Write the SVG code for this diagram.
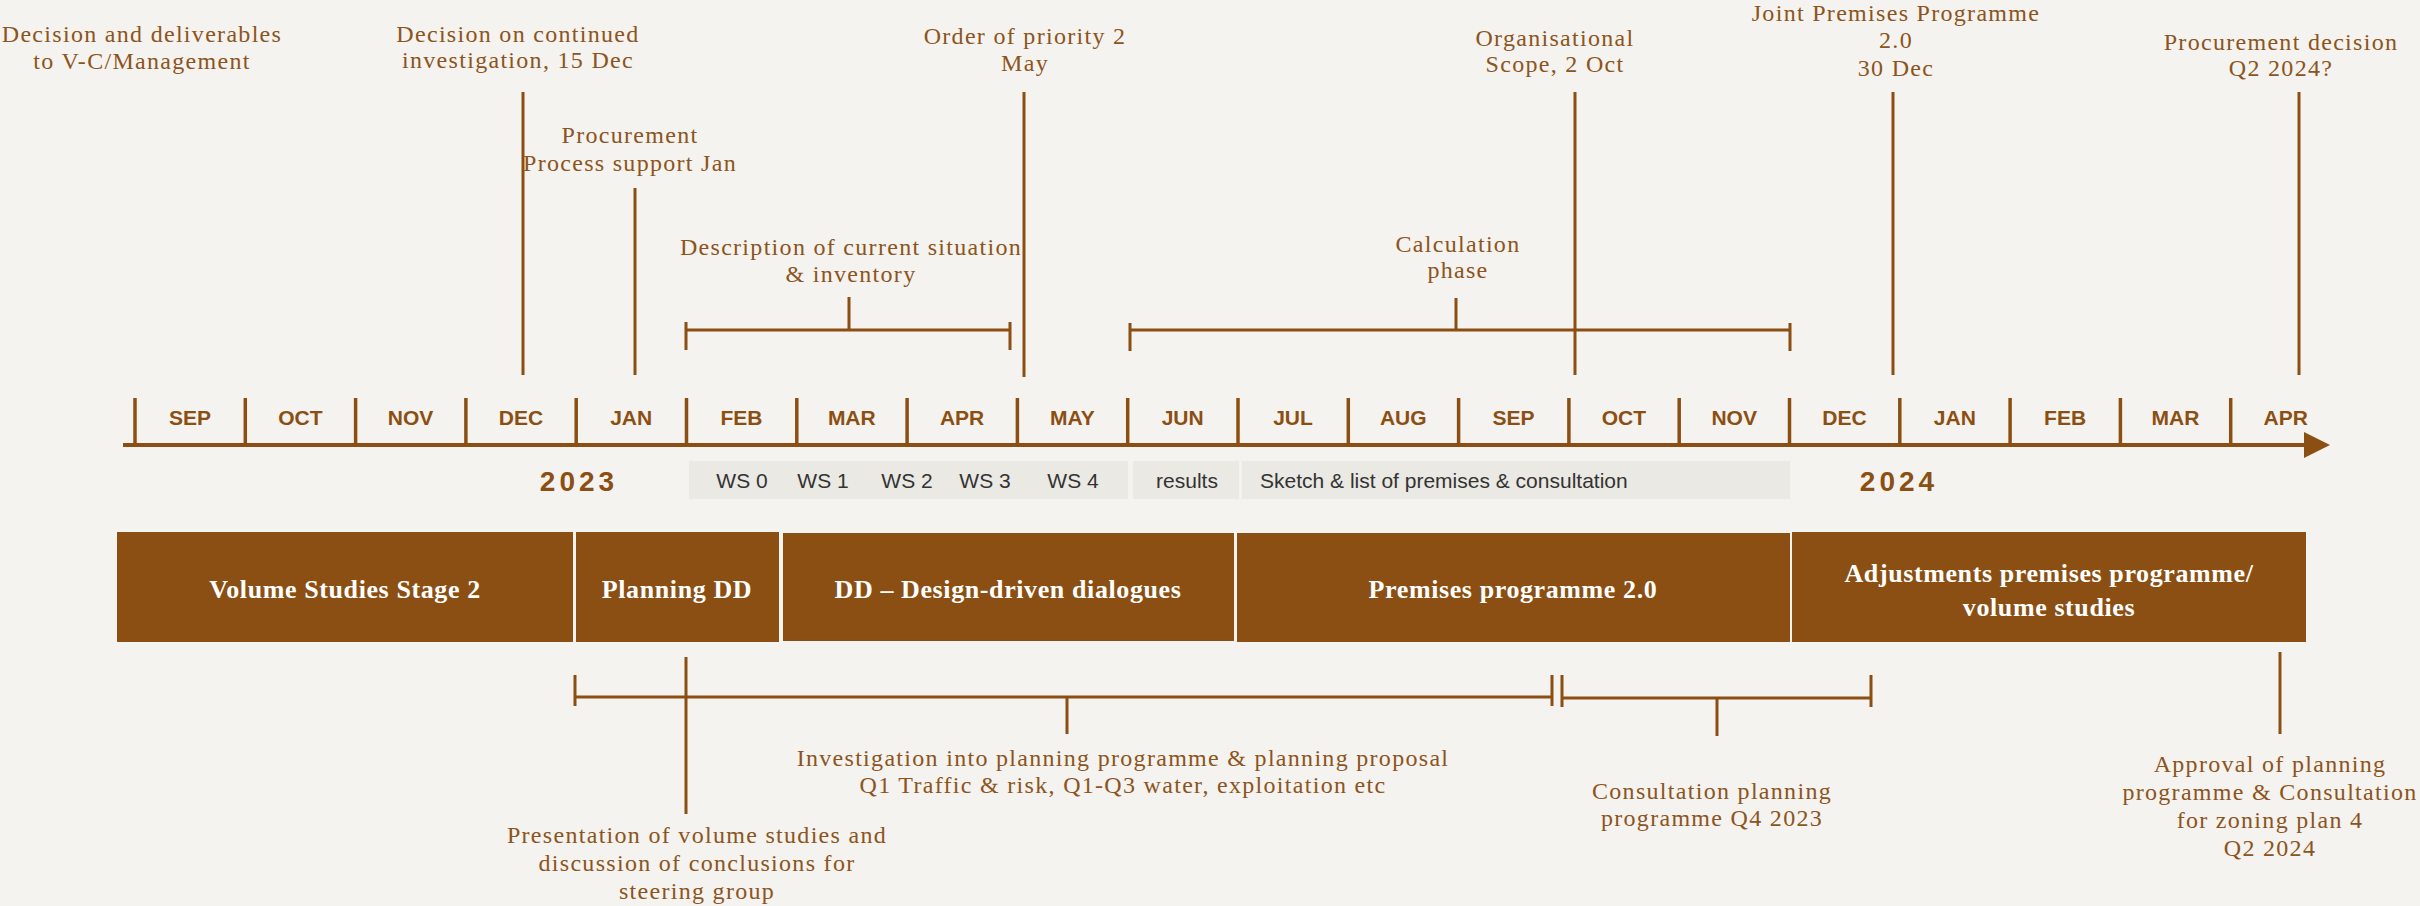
<svg xmlns="http://www.w3.org/2000/svg" width="2420" height="906" viewBox="0 0 2420 906">
<style>
.bg{fill:#F5F3EF}
.lbl{font-family:"Liberation Serif","Times New Roman",serif;font-size:24px;letter-spacing:1.3px;fill:#8C5420;text-anchor:middle}
.ln{stroke:#8B4F13;stroke-width:3;fill:none}
.tick{stroke:#8B4F13;stroke-width:3.5}
.mon{font-family:"Liberation Sans",Arial,sans-serif;font-weight:bold;font-size:21px;fill:#8B4F13;text-anchor:middle}
.yr{font-family:"Liberation Sans",Arial,sans-serif;font-weight:bold;font-size:28px;letter-spacing:4px;fill:#8B4F13;text-anchor:middle}
.ws{font-family:"Liberation Sans",Arial,sans-serif;font-size:21px;fill:#333333}
.gbox{fill:#EAE9E3}
.phase{fill:#8B4F13}
.ptxt{font-family:"Liberation Serif","Times New Roman",serif;font-weight:bold;font-size:26px;letter-spacing:0.6px;fill:#FFFFFF;text-anchor:middle}
</style>
<rect class="bg" x="0" y="0" width="2420" height="906"/>

<g id="timeline-axis">
  <line x1="123" y1="445" x2="2306" y2="445" stroke="#8B4F13" stroke-width="4"/>
  <polygon points="2304,432 2330,445 2304,458" fill="#8B4F13"/>
  <g class="tick">
    <line x1="135" y1="398" x2="135" y2="445"/>
    <line x1="245.3" y1="398" x2="245.3" y2="445"/>
    <line x1="355.6" y1="398" x2="355.6" y2="445"/>
    <line x1="465.9" y1="398" x2="465.9" y2="445"/>
    <line x1="576.2" y1="398" x2="576.2" y2="445"/>
    <line x1="686.5" y1="398" x2="686.5" y2="445"/>
    <line x1="796.8" y1="398" x2="796.8" y2="445"/>
    <line x1="907.1" y1="398" x2="907.1" y2="445"/>
    <line x1="1017.4" y1="398" x2="1017.4" y2="445"/>
    <line x1="1127.7" y1="398" x2="1127.7" y2="445"/>
    <line x1="1238" y1="398" x2="1238" y2="445"/>
    <line x1="1348.3" y1="398" x2="1348.3" y2="445"/>
    <line x1="1458.6" y1="398" x2="1458.6" y2="445"/>
    <line x1="1568.9" y1="398" x2="1568.9" y2="445"/>
    <line x1="1679.2" y1="398" x2="1679.2" y2="445"/>
    <line x1="1789.5" y1="398" x2="1789.5" y2="445"/>
    <line x1="1899.8" y1="398" x2="1899.8" y2="445"/>
    <line x1="2010.1" y1="398" x2="2010.1" y2="445"/>
    <line x1="2120.4" y1="398" x2="2120.4" y2="445"/>
    <line x1="2230.7" y1="398" x2="2230.7" y2="445"/>
  </g>
  <g class="mon">
    <text x="190" y="425">SEP</text>
    <text x="300.3" y="425">OCT</text>
    <text x="410.6" y="425">NOV</text>
    <text x="520.9" y="425">DEC</text>
    <text x="631.2" y="425">JAN</text>
    <text x="741.5" y="425">FEB</text>
    <text x="851.8" y="425">MAR</text>
    <text x="962.1" y="425">APR</text>
    <text x="1072.4" y="425">MAY</text>
    <text x="1182.7" y="425">JUN</text>
    <text x="1293" y="425">JUL</text>
    <text x="1403.3" y="425">AUG</text>
    <text x="1513.6" y="425">SEP</text>
    <text x="1623.9" y="425">OCT</text>
    <text x="1734.2" y="425">NOV</text>
    <text x="1844.5" y="425">DEC</text>
    <text x="1954.8" y="425">JAN</text>
    <text x="2065.1" y="425">FEB</text>
    <text x="2175.4" y="425">MAR</text>
    <text x="2285.7" y="425">APR</text>
  </g>
  <text class="yr" x="579" y="491">2023</text>
  <text class="yr" x="1899" y="491">2024</text>
</g>

<g id="workshops">
  <rect class="gbox" x="689" y="461" width="439" height="38"/>
  <rect class="gbox" x="1133" y="461" width="106" height="38"/>
  <rect class="gbox" x="1242" y="461" width="548" height="38"/>
  <g class="ws" text-anchor="middle">
    <text x="742" y="488">WS 0</text>
    <text x="823" y="488">WS 1</text>
    <text x="907" y="488">WS 2</text>
    <text x="985" y="488">WS 3</text>
    <text x="1073" y="488">WS 4</text>
    <text x="1187" y="488">results</text>
  </g>
  <text class="ws" x="1260" y="488">Sketch &amp; list of premises &amp; consultation</text>
</g>

<g id="phase-volume-studies">
  <rect class="phase" x="117" y="532" width="456" height="110"/>
  <text class="ptxt" x="345" y="598">Volume Studies Stage 2</text>
</g>
<g id="phase-planning-dd">
  <rect class="phase" x="576" y="532" width="203" height="110"/>
  <text class="ptxt" x="677" y="598">Planning DD</text>
</g>
<g id="phase-dd">
  <rect class="phase" x="783" y="533" width="451" height="108"/>
  <text class="ptxt" x="1008" y="598">DD – Design-driven dialogues</text>
</g>
<g id="phase-premises">
  <rect class="phase" x="1237" y="533" width="553" height="109"/>
  <text class="ptxt" x="1513" y="598">Premises programme 2.0</text>
</g>
<g id="phase-adjustments">
  <rect class="phase" x="1792" y="532" width="514" height="110"/>
  <text class="ptxt" x="2049" y="582">Adjustments premises programme/</text>
  <text class="ptxt" x="2049" y="616">volume studies</text>
</g>

<g id="connectors" class="ln">
  <line x1="523" y1="92" x2="523" y2="375"/>
  <line x1="635" y1="188" x2="635" y2="375"/>
  <line x1="1024" y1="92" x2="1024" y2="377"/>
  <line x1="1575" y1="92" x2="1575" y2="375"/>
  <line x1="1893" y1="92" x2="1893" y2="375"/>
  <line x1="2299" y1="92" x2="2299" y2="375"/>
  <path d="M686 322V350M686 330H1010M1010 322V350M849 297V330"/>
  <path d="M1130 323V351M1130 330H1790M1790 323V351M1456 298V330"/>
  <path d="M575 675V706M575 697H1552M1552 675V706M1067 697V734"/>
  <path d="M1562 675V707M1562 698H1871M1871 675V707M1717 698V736"/>
  <line x1="686" y1="657" x2="686" y2="814"/>
  <line x1="2280" y1="652" x2="2280" y2="734"/>
</g>

<g id="m-decision-deliverables" class="lbl">
  <text x="142" y="42">Decision and deliverables</text>
  <text x="142" y="69">to V-C/Management</text>
</g>
<g id="m-decision-continued" class="lbl">
  <text x="518" y="42">Decision on continued</text>
  <text x="518" y="68">investigation, 15 Dec</text>
</g>
<g id="m-procurement-support" class="lbl">
  <text x="630" y="143">Procurement</text>
  <text x="630" y="171">Process support Jan</text>
</g>
<g id="m-description" class="lbl">
  <text x="851" y="255">Description of current situation</text>
  <text x="851" y="282">&amp; inventory</text>
</g>
<g id="m-priority" class="lbl">
  <text x="1025" y="44">Order of priority 2</text>
  <text x="1025" y="71">May</text>
</g>
<g id="m-calculation" class="lbl">
  <text x="1458" y="252">Calculation</text>
  <text x="1458" y="278">phase</text>
</g>
<g id="m-organisational" class="lbl">
  <text x="1555" y="46">Organisational</text>
  <text x="1555" y="72">Scope, 2 Oct</text>
</g>
<g id="m-joint-premises" class="lbl">
  <text x="1896" y="21">Joint Premises Programme</text>
  <text x="1896" y="48">2.0</text>
  <text x="1896" y="76">30 Dec</text>
</g>
<g id="m-procurement-decision" class="lbl">
  <text x="2281" y="50">Procurement decision</text>
  <text x="2281" y="76">Q2 2024?</text>
</g>
<g id="m-investigation" class="lbl">
  <text x="1123" y="766">Investigation into planning programme &amp; planning proposal</text>
  <text x="1123" y="793">Q1 Traffic &amp; risk, Q1-Q3 water, exploitation etc</text>
</g>
<g id="m-presentation" class="lbl">
  <text x="697" y="843">Presentation of volume studies and</text>
  <text x="697" y="871">discussion of conclusions for</text>
  <text x="697" y="899">steering group</text>
</g>
<g id="m-consultation" class="lbl">
  <text x="1712" y="799">Consultation planning</text>
  <text x="1712" y="826">programme Q4 2023</text>
</g>
<g id="m-approval" class="lbl">
  <text x="2270" y="772">Approval of planning</text>
  <text x="2270" y="800">programme &amp; Consultation</text>
  <text x="2270" y="828">for zoning plan 4</text>
  <text x="2270" y="856">Q2 2024</text>
</g>
</svg>
